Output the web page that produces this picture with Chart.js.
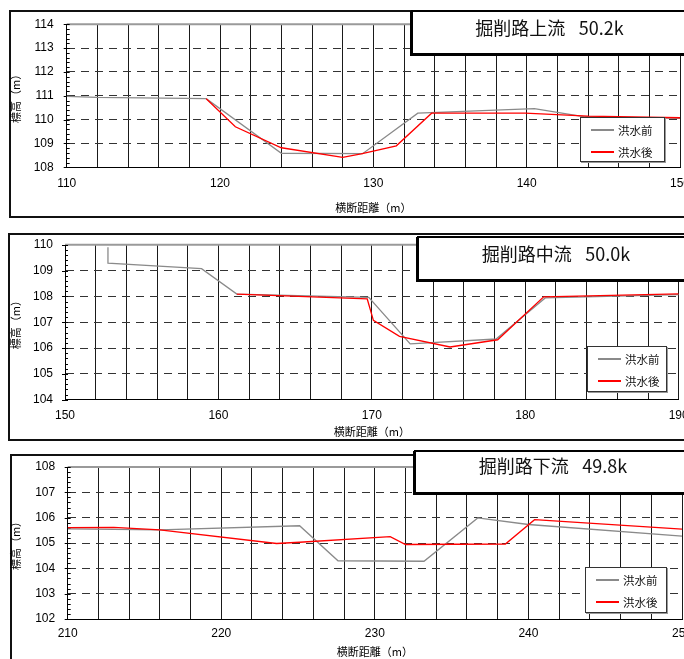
<!DOCTYPE html>
<html>
<head>
    <meta charset="utf-8">
    <title>掘削路 横断図</title>
    <style>
        body {
            margin: 0;
            width: 684px;
            height: 659px;
            overflow: hidden;
            position: relative;
            background-color: #FFFFFF;
            font-family: "Liberation Sans", Arial, "Noto Sans CJK JP", sans-serif;
        }

        .panel {
            position: absolute;
            box-sizing: border-box;
            border: 2px solid #111111;
            background-color: #FFFFFF;
        }

        canvas {
            position: absolute;
            left: 0;
        }

        .title-box {
            position: absolute;
            box-sizing: border-box;
            border: 2px solid #000000;
            box-shadow: -1px 1px 0 #000000;
            background-color: #FFFFFF;
            font-family: "Noto Sans CJK JP", sans-serif;
            font-size: 18px;
            line-height: 20px;
            text-align: center;
            white-space: pre;
            color: #111111;
        }

        .legend {
            position: absolute;
            box-sizing: border-box;
            border: 1px solid #333333;
            box-shadow: 1px 1px 0 #999999;
            background-color: #FFFFFF;
            font-family: "Noto Sans CJK JP", sans-serif;
            font-size: 11.5px;
            color: #111111;
        }

        .legend .swatch {
            position: absolute;
            height: 2px;
        }

        .legend .name {
            position: absolute;
            line-height: 14px;
        }
    </style>
</head>
<body>
    <script src="https://cdn.jsdelivr.net/npm/chart.js@4"></script>
    <script>
        // series and titles
        var seriesNames = ['洪水前', '洪水後'];
        var panelTitles = ['掘削路上流\u2002\u200550.2k', '掘削路中流\u2002\u200550.0k', '掘削路下流\u2002\u200549.8k'];
        var xAxisTitle = '横断距離（m）';
        var yAxisTitle = '標高（m）';

        // axis ranges (x labelled every 10, grid every 2; y every 1)
        var xRanges = [[110, 150], [150, 190], [210, 250]];
        var yRanges = [[108, 114], [104, 110], [102, 108]];

        // 上流 50.2k
        var upBeforeX = [110, 112, 119.1, 124.0, 129.3, 132.9, 140.5, 143.8, 150];
        var upBeforeY = [110.98, 110.93, 110.88, 108.59, 108.57, 110.27, 110.46, 110.12, 110.05];
        var upAfterX = [119.1, 121.0, 124.0, 128.0, 129.2, 131.5, 133.8, 139.9, 144.0, 150];
        var upAfterY = [110.88, 109.70, 108.82, 108.42, 108.56, 108.90, 110.27, 110.27, 110.15, 110.08];

        // 中流 50.0k
        var midBeforeX = [152.8, 152.8, 158.9, 161.2, 169.8, 172.5, 178.1, 181.3, 190];
        var midBeforeY = [109.90, 109.29, 109.07, 108.09, 107.96, 106.16, 106.35, 107.94, 108.07];
        var midAfterX = [161.2, 169.7, 170.1, 171.8, 175.1, 178.2, 181.2, 190];
        var midAfterY = [108.09, 107.90, 107.07, 106.45, 106.04, 106.32, 107.98, 108.10];

        // 下流 49.8k
        var lowBeforeX = [210, 216.0, 225.1, 227.6, 233.2, 236.7, 240.0, 250];
        var lowBeforeY = [105.56, 105.52, 105.68, 104.30, 104.28, 105.99, 105.73, 105.27];
        var lowAfterX = [210, 213.0, 216.0, 223.6, 225.1, 231.0, 232.0, 238.5, 240.4, 250];
        var lowAfterY = [105.61, 105.62, 105.52, 104.98, 105.03, 105.25, 104.94, 104.96, 105.92, 105.55];

        var seriesX = [[upBeforeX, upAfterX], [midBeforeX, midAfterX], [lowBeforeX, lowAfterX]];
        var seriesY = [[upBeforeY, upAfterY], [midBeforeY, midAfterY], [lowBeforeY, lowAfterY]];

        var seriesColors = ['#8a8a8a', '#ff0000'];
        var numFont = '"Liberation Sans", Arial, sans-serif';
        var cjkFont = '"Noto Sans CJK JP", sans-serif';

        // page layout of each panel (pixels)
        var layouts = [
            { box: [9, 10, 700, 208], cv: [12, 205], plot: [66.7, 680, 24.3, 167.3], xTitleY: 208.3, xGap: 16, yPad: 13,
              title: [411, 10, 277, 45, 5], legend: [580, 117, 85, 45] },
            { box: [8, 233, 700, 208], cv: [235, 205], plot: [65, 678.7, 244.7, 399.7], xTitleY: 432, xGap: 15.6, yPad: 12,
              title: [417, 236, 278, 45, 5], legend: [587, 346, 80, 46] },
            { box: [10, 454, 700, 220], cv: [456, 203], plot: [67.7, 682, 467, 619], xTitleY: 652, xGap: 15, yPad: 12.5,
              title: [414, 450, 278, 44, 3], legend: [585, 567, 82, 46] }
        ];

        function pts(xs, ys) {
            return xs.map(function(x, i) { return { x: x, y: ys[i] }; });
        }

        // gray top frame and small ticks on the y axis
        var axisDecor = {
            id: 'axisDecor',
            beforeDatasetsDraw: function(chart) {
                var ctx = chart.ctx, a = chart.chartArea, y = chart.scales.y;
                ctx.save();
                ctx.strokeStyle = '#9a9a9a';
                ctx.lineWidth = 2;
                ctx.beginPath();
                ctx.moveTo(a.left, a.top);
                ctx.lineTo(a.right, a.top);
                ctx.stroke();

                ctx.strokeStyle = '#000';
                ctx.lineWidth = 1;
                ctx.beginPath();
                var n = Math.round((y.max - y.min) * 5);
                for (var i = 0; i <= n; i++) {
                    var py = Math.round(y.getPixelForValue(y.min + i * 0.2)) + 0.5;
                    ctx.moveTo(a.left - (i % 5 === 0 ? 3 : 0), py);
                    ctx.lineTo(a.left + 3, py);
                }
                ctx.stroke();
                ctx.restore();
            }
        };

        layouts.forEach(function(L, k) {
            var panel = document.createElement('div');
            panel.className = 'panel';
            panel.style.left = L.box[0] + 'px';
            panel.style.top = L.box[1] + 'px';
            panel.style.width = L.box[2] + 'px';
            panel.style.height = L.box[3] + 'px';
            document.body.appendChild(panel);

            var canvas = document.createElement('canvas');
            canvas.width = 684;
            canvas.height = L.cv[1];
            canvas.style.top = L.cv[0] + 'px';
            canvas.style.width = '684px';
            canvas.style.height = L.cv[1] + 'px';
            document.body.appendChild(canvas);

            var xMin = xRanges[k][0], xMax = xRanges[k][1];
            var yMin = yRanges[k][0], yMax = yRanges[k][1];
            var plotL = L.plot[0], plotR = L.plot[1], plotT = L.plot[2], plotB = L.plot[3];
            var cvBottom = L.cv[0] + L.cv[1];

            new Chart(canvas, {
                type: 'line',
                data: {
                    datasets: [{
                        label: seriesNames[0],
                        data: pts(seriesX[k][0], seriesY[k][0]),
                        borderColor: seriesColors[0],
                        borderWidth: 1.3,
                        pointRadius: 0,
                        tension: 0,
                        order: 1
                    }, {
                        label: seriesNames[1],
                        data: pts(seriesX[k][1], seriesY[k][1]),
                        borderColor: seriesColors[1],
                        borderWidth: 1.3,
                        pointRadius: 0,
                        tension: 0,
                        order: 0
                    }]
                },
                options: {
                    responsive: false,
                    animation: false,
                    events: [],
                    layout: {
                        padding: { left: 0, top: plotT - L.cv[0], right: 684 - plotR, bottom: 0 }
                    },
                    plugins: {
                        legend: { display: false },
                        tooltip: { enabled: false }
                    },
                    scales: {
                        x: {
                            type: 'linear',
                            min: xMin,
                            max: xMax,
                            ticks: {
                                stepSize: 2,
                                autoSkip: false,
                                maxRotation: 0,
                                padding: L.xGap - 7.2,
                                color: '#000',
                                font: { size: 12, family: numFont },
                                callback: function(v) { return v % 10 === 0 ? v : ''; }
                            },
                            grid: { color: '#1a1a1a', lineWidth: 1, drawTicks: false },
                            border: { color: '#000', width: 1 },
                            title: {
                                display: true,
                                text: xAxisTitle,
                                color: '#000',
                                font: { size: 11, family: cjkFont },
                                padding: { top: 0, bottom: cvBottom - L.xTitleY - 6.6 }
                            },
                            afterFit: function(s) {
                                s.height = cvBottom - plotB;
                                s.paddingLeft = 0;
                                s.paddingRight = 0;
                            }
                        },
                        y: {
                            min: yMin,
                            max: yMax,
                            ticks: {
                                stepSize: 1,
                                padding: L.yPad,
                                color: '#000',
                                font: { size: 12, family: numFont }
                            },
                            grid: {
                                drawTicks: false,
                                lineWidth: 1,
                                color: function(c) {
                                    if (c.tick && (c.tick.value === yMax || c.tick.value === yMin)) {
                                        return 'rgba(0,0,0,0)';
                                    }
                                    return '#333';
                                }
                            },
                            border: { color: '#000', width: 1, dash: [8, 6] },
                            title: {
                                display: true,
                                text: yAxisTitle,
                                color: '#000',
                                font: { size: 11, family: cjkFont },
                                padding: { top: 9.4, bottom: 0 }
                            },
                            afterFit: function(s) {
                                s.width = plotL;
                                s.paddingTop = 0;
                                s.paddingBottom = 0;
                            }
                        }
                    }
                },
                plugins: [axisDecor]
            });

            // title box
            var title = document.createElement('div');
            title.className = 'title-box';
            title.style.left = L.title[0] + 'px';
            title.style.top = L.title[1] + 'px';
            title.style.width = L.title[2] + 'px';
            title.style.height = L.title[3] + 'px';
            title.style.paddingTop = L.title[4] + 'px';
            title.textContent = panelTitles[k];
            document.body.appendChild(title);

            // legend box
            var legend = document.createElement('div');
            legend.className = 'legend';
            legend.style.left = L.legend[0] + 'px';
            legend.style.top = L.legend[1] + 'px';
            legend.style.width = L.legend[2] + 'px';
            legend.style.height = L.legend[3] + 'px';
            seriesNames.forEach(function(name, i) {
                var rowY = 11 + i * 22;
                var sw = document.createElement('div');
                sw.className = 'swatch';
                sw.style.left = '10px';
                sw.style.width = '23px';
                sw.style.top = rowY + 'px';
                sw.style.backgroundColor = seriesColors[i];
                legend.appendChild(sw);
                var label = document.createElement('div');
                label.className = 'name';
                label.style.left = '37px';
                label.style.top = (rowY - 6) + 'px';
                label.textContent = name;
                legend.appendChild(label);
            });
            document.body.appendChild(legend);
        });
    </script>
</body>
</html>
